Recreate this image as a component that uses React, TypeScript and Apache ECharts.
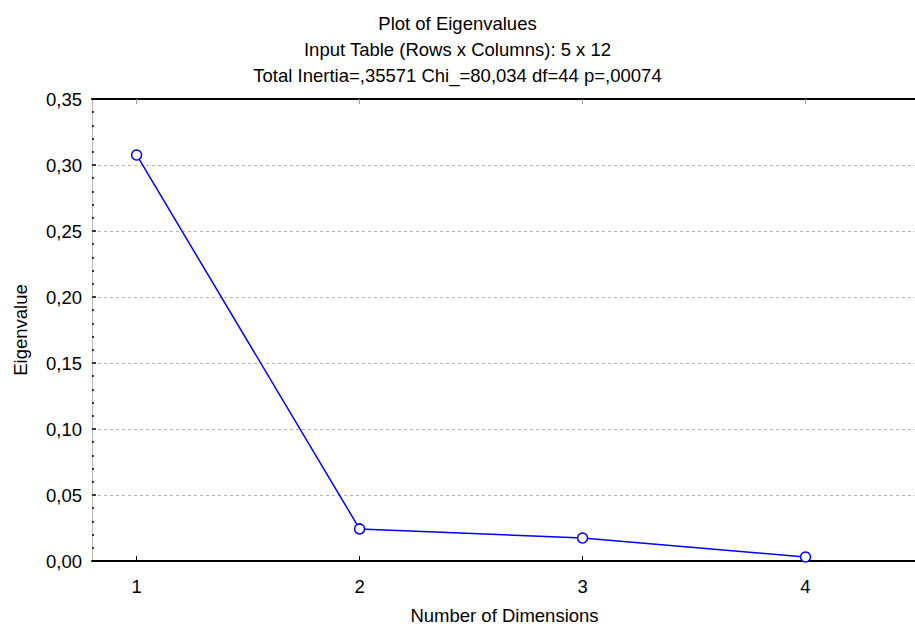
import React, { useEffect, useRef } from "react";
import * as echarts from "echarts";

// Eigenvalue per extracted dimension
const dimensions = [1, 2, 3, 4];
const eigenvalues = [0.3076, 0.0243, 0.0174, 0.003];
const yTicks = [0, 0.05, 0.1, 0.15, 0.2, 0.25, 0.3, 0.35];

const titleLines = [
  "Plot of Eigenvalues",
  "Input Table (Rows x Columns): 5 x 12",
  "Total Inertia=,35571 Chi_=80,034 df=44 p=,00074",
];

const FONT = "Liberation Sans, Arial, sans-serif";
const FS = 18.5;

export default function App() {
  const ref = useRef<HTMLDivElement>(null);

  useEffect(() => {
    if (!ref.current) return;
    const chart = echarts.init(ref.current, null, { renderer: "svg" });
    const points = dimensions.map((d, i) => [d, eigenvalues[i]]);
    chart.setOption({
      animation: false,
      backgroundColor: "#ffffff",
      textStyle: { fontFamily: FONT },
      title: {
        text: titleLines.join("\n"),
        left: "center",
        top: 5,
        textStyle: {
          fontFamily: FONT,
          fontSize: FS,
          fontWeight: "normal",
          color: "#000",
          lineHeight: 26,
        },
      },
      grid: { left: 92, top: 99, right: -2, bottom: 66, outerBoundsMode: "none" },
      xAxis: [
        {
          type: "value",
          min: 0.8,
          max: 4.5,
          position: "bottom",
          name: "Number of Dimensions",
          nameLocation: "middle",
          nameGap: 45,
          nameTextStyle: { fontFamily: FONT, fontSize: FS, color: "#000" },
          axisLine: { show: true, onZero: false, lineStyle: { color: "#000", width: 2 } },
          axisTick: { show: true, inside: true, length: 5, customValues: dimensions, lineStyle: { color: "#000" } },
          axisLabel: {
            customValues: dimensions,
            margin: 16,
            fontFamily: FONT,
            fontSize: FS,
            color: "#000",
            formatter: (v: number) => String(v),
          },
          splitLine: { show: false },
        },
        {
          type: "value",
          min: 0.8,
          max: 4.5,
          position: "top",
          axisLine: { show: true, onZero: false, lineStyle: { color: "#000", width: 2 } },
          axisTick: { show: true, inside: true, length: 5, customValues: dimensions, lineStyle: { color: "#999" } },
          axisLabel: { show: false },
          splitLine: { show: false },
        },
      ],
      yAxis: {
        type: "value",
        min: 0,
        max: 0.35,
        interval: 0.05,
        name: "Eigenvalue",
        nameLocation: "middle",
        nameGap: 62,
        nameTextStyle: { fontFamily: FONT, fontSize: FS, color: "#000" },
        axisLine: { show: true, lineStyle: { color: "#bbb", width: 1 } },
        axisTick: { show: true, inside: true, length: 4, customValues: yTicks, lineStyle: { color: "#000", width: 1.5 } },
        minorTick: { show: true, splitNumber: 5, length: 2, lineStyle: { color: "#000", width: 1.5 } },
        axisLabel: {
          margin: 10,
          fontFamily: FONT,
          fontSize: FS,
          color: "#000",
          formatter: (v: number) => v.toFixed(2).replace(".", ","),
        },
        splitLine: { show: true, lineStyle: { color: "#b4b4b4", type: [3, 3], width: 1 } },
      },
      series: [
        {
          type: "line",
          data: points,
          xAxisIndex: 0,
          symbol: "circle",
          symbolSize: 10,
          itemStyle: { color: "#fff", borderColor: "#0000ff", borderWidth: 1.5 },
          lineStyle: { color: "#0000ff", width: 1.5 },
          z: 3,
        },
      ],
    });
    return () => chart.dispose();
  }, []);

  return (
    <div
      ref={ref}
      style={{ position: "fixed", left: 0, top: 0, width: 915, height: 627, background: "#fff" }}
    />
  );
}
